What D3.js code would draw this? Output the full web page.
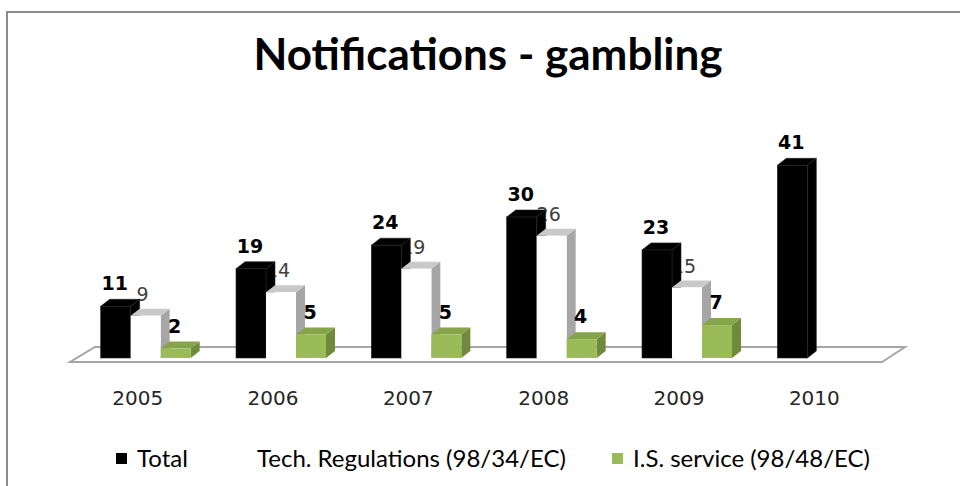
<!DOCTYPE html>
<html>
<head>
<meta charset="utf-8">
<script src="https://cdn.jsdelivr.net/npm/d3@7"></script>
<style>
  body { margin: 0; background: #fff; }
  #chart { width: 960px; height: 486px; }
</style>
</head>
<body>
<div id="chart"></div>
<script>
const years = ["2005", "2006", "2007", "2008", "2009", "2010"];
const total = [11, 19, 24, 30, 23, 41];
const techReg = [9, 14, 19, 26, 15, null];
const isService = [2, 5, 5, 4, 7, null];
const seriesNames = ["Total", "Tech. Regulations (98/34/EC)", "I.S. service (98/48/EC)"];

const width = 960, height = 486;
const dx = 9, dy = -7; // bar depth offset

const svg = d3.select("#chart").append("svg")
    .attr("width", width)
    .attr("height", height);

// chart area border (runs off the right and bottom of the picture)
svg.append("rect")
    .attr("x", 7).attr("y", 12)
    .attr("width", 1000).attr("height", 600)
    .attr("fill", "#fff")
    .attr("stroke", "#8c8c8c")
    .attr("stroke-width", 2);

svg.append("text")
    .attr("x", 488).attr("y", 70)
    .attr("text-anchor", "middle")
    .style("font-family", "Lato, 'Open Sans', sans-serif")
    .style("font-weight", "bold")
    .style("font-size", "44px")
    .text("Notifications - gambling");

const x = d3.scaleBand().domain(years).range([70, 882]);
const inner = d3.scaleBand().domain(seriesNames).range([0, 90]);
const y = d3.scaleLinear().domain([0, 45]).range([358, 146.5]);

// floor
const floorFront = 362, floorBack = 347;
svg.append("path")
    .attr("d", `M70,${floorFront} L882,${floorFront} L905,${floorBack} L95,${floorBack} Z`)
    .attr("fill", "#fff")
    .attr("stroke", "#a6a6a6")
    .attr("stroke-width", 2);

const series = [
    { name: seriesNames[0], values: total, front: "#000", side: "#000", top: "#000", edge: "#262626" },
    { name: seriesNames[1], values: techReg, front: "#fff", side: "#a6a6a6", top: "#c9c9c9", edge: "none" },
    { name: seriesNames[2], values: isService, front: "#9bbb59", side: "#6f8a3c", top: "#86a44a", edge: "none" }
];

function barLeft(s, i) {
    return x(years[i]) + x.bandwidth() / 2 - 37 + inner(s.name);
}

const bw = inner.bandwidth();
const base = y(0);

// the Tech. Regulations labels sit behind the bars in the original
const behind = series[1];
svg.append("g")
    .selectAll("text")
    .data(behind.values.map((v, i) => ({ v, i })).filter(d => d.v !== null))
    .join("text")
    .attr("x", d => barLeft(behind, d.i) + bw / 2 - 3)
    .attr("y", d => y(d.v) - 15)
    .attr("text-anchor", "middle")
    .style("font-family", "'DejaVu Sans', Verdana, sans-serif")
    .style("font-size", "19px")
    .attr("fill", "#404040")
    .text(d => d.v);

series.forEach(s => {
    const g = svg.append("g");
    const bars = g.selectAll("g.bar")
        .data(s.values.map((v, i) => ({ v, i })).filter(d => d.v !== null))
        .join("g").attr("class", "bar");

    bars.append("path")
        .attr("d", d => {
            const x0 = barLeft(s, d.i) + bw, y0 = y(d.v);
            return `M${x0},${base} L${x0 + dx},${base + dy} L${x0 + dx},${y0 + dy} L${x0},${y0} Z`;
        })
        .attr("fill", s.side).attr("stroke", s.edge).attr("stroke-width", 0.6);

    bars.append("path")
        .attr("d", d => {
            const x0 = barLeft(s, d.i), y0 = y(d.v);
            return `M${x0},${y0} L${x0 + dx},${y0 + dy} L${x0 + bw + dx},${y0 + dy} L${x0 + bw},${y0} Z`;
        })
        .attr("fill", s.top).attr("stroke", s.edge).attr("stroke-width", 0.6);

    bars.append("rect")
        .attr("x", d => barLeft(s, d.i))
        .attr("y", d => y(d.v))
        .attr("width", bw)
        .attr("height", d => base - y(d.v))
        .attr("fill", s.front).attr("stroke", s.edge).attr("stroke-width", 0.6);
});

// bold labels for Total and I.S. service
[series[0], series[2]].forEach(s => {
    svg.append("g")
        .selectAll("text")
        .data(s.values.map((v, i) => ({ v, i })).filter(d => d.v !== null))
        .join("text")
        .attr("x", d => barLeft(s, d.i) + bw / 2 - 1)
        .attr("y", d => y(d.v) - 16)
        .attr("text-anchor", "middle")
        .style("font-family", "'DejaVu Sans', Verdana, sans-serif")
        .style("font-weight", "bold")
        .style("font-size", "19px")
        .attr("fill", "#000")
        .text(d => d.v);
});

// category axis
const axis = svg.append("g")
    .attr("transform", `translate(0,${floorFront})`)
    .call(d3.axisBottom(x).tickSize(0).tickPadding(29));
axis.select(".domain").remove();
axis.selectAll("text")
    .style("font-family", "'DejaVu Sans', Verdana, sans-serif")
    .style("font-size", "20px")
    .attr("fill", "#262626");

// legend
const legendX = [116, 236, 612];
const legendColors = ["#000", "#fff", "#9bbb59"];
const legend = svg.append("g")
    .selectAll("g")
    .data(seriesNames)
    .join("g")
    .attr("transform", (d, i) => `translate(${legendX[i]},453)`);

legend.append("rect")
    .attr("width", 11).attr("height", 11)
    .attr("fill", (d, i) => legendColors[i]);

legend.append("text")
    .attr("x", 21).attr("y", 14)
    .style("font-family", "Lato, 'Open Sans', sans-serif")
    .style("font-size", "24px")
    .attr("fill", "#000")
    .text(d => d);
</script>
</body>
</html>
